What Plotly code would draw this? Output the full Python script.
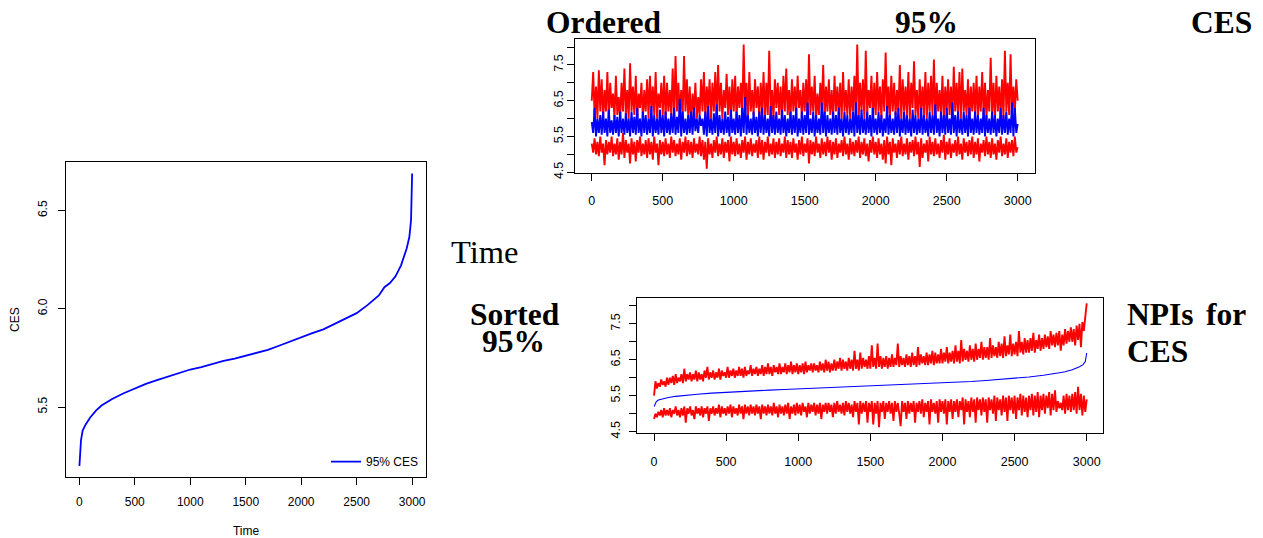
import plotly.graph_objects as go

# ---------------- data ----------------
# Left panel: sorted 95% CES curve
LEFT_T = [1, 15, 30, 60, 100, 150, 200, 300, 400, 500, 600, 700, 800, 900, 1000,
          1100, 1200, 1300, 1400, 1500, 1600, 1700, 1800, 1900, 2000, 2100, 2200,
          2300, 2400, 2500, 2600, 2700, 2750, 2800, 2850, 2900, 2950, 2975, 2990,
          2998, 3000]
LEFT_CES = [5.20, 5.33, 5.38, 5.414, 5.448, 5.482, 5.508, 5.542, 5.570, 5.596, 5.618,
            5.637, 5.655, 5.674, 5.691, 5.703, 5.720, 5.735, 5.747, 5.761, 5.776,
            5.791, 5.812, 5.834, 5.856, 5.876, 5.895, 5.924, 5.949, 5.978, 6.020,
            6.068, 6.110, 6.131, 6.165, 6.221, 6.306, 6.365, 6.450, 6.586, 6.688]

# Top-right panel: ordered 95% CES with NPI bounds (sampled every 10 time steps)
TOP_UPPER = [
    6.5, 7.3, 6.1, 6.9, 6.0, 7.35, 6.2, 7.1, 6.0, 6.8,
    6.2, 7.3, 6.0, 7.0, 6.3, 6.7, 6.0, 7.2, 6.1, 6.6,
    6.0, 7.0, 6.2, 7.4, 6.1, 6.8, 6.0, 7.55, 6.2, 6.9,
    6.1, 7.2, 6.0, 6.7, 6.3, 7.0, 6.0, 6.8, 6.2, 7.1,
    6.0, 7.2, 6.2, 6.9, 6.1, 7.3, 6.0, 6.7, 6.3, 7.0,
    6.1, 7.2, 6.0, 7.0, 6.2, 6.8, 6.1, 7.4, 6.0, 7.75,
    6.2, 7.0, 6.1, 6.8, 6.0, 7.75, 6.2, 7.1, 6.0, 6.9,
    5.9, 6.7, 6.2, 7.0, 6.0, 6.6, 6.1, 7.1, 6.2, 7.3,
    6.0, 6.9, 6.3, 7.1, 6.0, 7.0, 6.2, 7.3, 6.1, 7.5,
    6.2, 7.0, 6.0, 6.8, 6.3, 7.25, 6.1, 6.9, 6.0, 7.1,
    6.2, 7.2, 6.0, 6.9, 6.3, 7.0, 6.1, 8.07, 6.2, 7.0,
    6.0, 7.3, 6.2, 6.8, 6.1, 7.1, 6.3, 6.9, 6.0, 7.0,
    6.2, 7.3, 6.0, 7.0, 6.1, 7.9, 6.2, 6.8, 6.0, 7.1,
    6.3, 7.0, 6.1, 6.9, 6.0, 7.2, 6.2, 7.4, 6.1, 6.8,
    6.0, 7.1, 6.2, 6.9, 6.1, 7.2, 6.3, 6.8, 6.0, 7.0,
    6.2, 7.1, 6.0, 7.8, 6.1, 6.9, 6.2, 7.2, 6.0, 6.7,
    6.1, 7.0, 6.3, 7.5, 6.0, 6.9, 6.2, 7.1, 6.1, 6.8,
    6.0, 7.2, 6.2, 6.9, 6.1, 7.0, 6.0, 7.3, 6.2, 6.8,
    6.1, 7.1, 6.0, 6.9, 6.2, 7.2, 6.1, 8.07, 6.0, 7.0,
    6.2, 7.1, 6.0, 7.9, 6.1, 6.8, 6.3, 7.2, 6.0, 7.0,
    6.1, 7.3, 6.2, 6.9, 6.0, 7.1, 6.2, 7.85, 6.1, 6.9,
    6.0, 7.2, 6.2, 7.0, 6.1, 6.8, 6.2, 7.5, 6.0, 7.1,
    6.2, 6.9, 6.1, 7.3, 6.0, 7.0, 6.3, 7.6, 6.1, 6.8,
    6.0, 7.1, 6.2, 6.9, 6.1, 7.3, 6.0, 7.0, 6.2, 7.2,
    6.1, 7.65, 6.0, 7.0, 6.2, 6.8, 6.1, 7.2, 6.0, 6.9,
    6.2, 7.1, 6.1, 6.9, 6.0, 7.45, 6.2, 7.0, 6.1, 7.3,
    6.0, 7.4, 6.2, 6.8, 6.1, 7.1, 6.0, 6.9, 6.2, 7.0,
    6.1, 7.2, 6.0, 6.9, 6.2, 7.3, 6.1, 7.0, 6.0, 6.8,
    6.2, 7.7, 6.1, 7.0, 6.0, 7.2, 6.2, 6.9, 6.1, 7.1,
    6.0, 7.9, 6.2, 7.0, 6.1, 7.8, 6.0, 6.9, 6.2, 7.1,
    6.5]
TOP_CES = [
    5.9, 5.6, 6.3, 5.5, 6.0, 5.6, 6.1, 5.55, 6.2, 5.6,
    6.0, 5.5, 6.25, 5.6, 5.95, 5.55, 6.1, 5.6, 6.05, 5.5,
    6.2, 5.6, 6.0, 5.55, 6.15, 5.6, 6.0, 5.5, 6.2, 5.6,
    6.05, 5.55, 6.3, 5.6, 6.0, 5.5, 6.2, 5.6, 6.1, 5.55,
    6.0, 5.6, 6.35, 5.5, 6.1, 5.6, 6.0, 5.55, 6.25, 5.6,
    6.1, 5.5, 6.2, 5.6, 6.0, 5.55, 6.15, 5.6, 6.3, 5.55,
    6.05, 5.6, 6.55, 5.5, 6.2, 5.6, 6.0, 5.55, 6.1, 5.6,
    6.2, 5.55, 6.3, 5.65, 6.0, 5.6, 6.1, 5.8, 6.0, 5.55,
    6.2, 5.5, 6.35, 5.6, 6.0, 5.55, 6.15, 5.6, 6.4, 5.5,
    6.1, 5.6, 6.0, 5.55, 6.2, 5.6, 6.05, 5.5, 6.25, 5.6,
    6.0, 5.55, 6.2, 5.6, 6.1, 5.5, 6.3, 5.6, 6.6, 5.55,
    6.1, 5.6, 6.0, 5.55, 6.2, 5.6, 6.05, 5.5, 6.2, 5.6,
    6.3, 5.55, 6.1, 5.6, 6.0, 5.5, 6.35, 5.6, 6.1, 5.55,
    6.2, 5.6, 6.0, 5.55, 6.25, 5.6, 6.1, 5.5, 6.0, 5.6,
    6.2, 5.55, 6.1, 5.6, 6.3, 5.5, 6.0, 5.6, 6.2, 5.55,
    6.1, 5.6, 6.45, 5.55, 6.0, 5.6, 6.2, 5.5, 6.1, 5.6,
    6.0, 5.55, 6.45, 5.6, 6.2, 5.5, 6.1, 5.6, 6.0, 5.55,
    6.2, 5.6, 6.1, 5.55, 6.3, 5.6, 6.0, 5.5, 6.2, 5.6,
    6.1, 5.55, 6.0, 5.6, 6.2, 5.5, 6.45, 5.6, 6.1, 5.55,
    6.25, 5.6, 6.0, 5.55, 6.2, 5.6, 6.1, 5.5, 6.3, 5.6,
    6.0, 5.55, 6.2, 5.6, 6.1, 5.5, 6.0, 5.6, 6.35, 5.55,
    6.1, 5.6, 6.0, 5.55, 6.2, 5.6, 6.3, 5.5, 6.0, 5.6,
    6.2, 5.55, 6.1, 5.6, 6.0, 5.5, 6.25, 5.6, 6.1, 5.55,
    6.0, 5.6, 6.3, 5.55, 6.1, 5.6, 6.0, 5.5, 6.2, 5.6,
    6.1, 5.55, 6.4, 5.6, 6.0, 5.5, 6.2, 5.6, 6.1, 5.55,
    6.3, 5.6, 6.0, 5.55, 6.45, 5.6, 6.1, 5.5, 6.2, 5.6,
    6.0, 5.55, 6.2, 5.6, 6.1, 5.5, 6.3, 5.6, 6.0, 5.55,
    6.2, 5.6, 6.1, 5.55, 6.0, 5.6, 6.3, 5.5, 6.1, 5.6,
    6.0, 5.55, 6.2, 5.6, 6.1, 5.5, 6.0, 5.6, 6.3, 5.55,
    6.1, 5.6, 6.2, 5.55, 6.0, 5.6, 6.45, 5.5, 6.3, 5.6,
    5.85]
TOP_LOWER = [
    5.3, 5.05, 5.45, 5.0, 5.35, 4.95, 5.5, 5.05, 5.3, 4.7,
    5.4, 5.0, 5.35, 5.05, 5.5, 4.95, 5.3, 5.0, 5.45, 4.85,
    5.35, 5.0, 5.6, 4.9, 5.4, 5.05, 5.3, 4.75, 5.45, 5.0,
    5.35, 4.8, 5.4, 5.05, 5.5, 4.95, 5.3, 5.0, 5.4, 4.9,
    5.45, 5.0, 5.35, 4.85, 5.5, 5.05, 5.3, 4.7, 5.4, 5.0,
    5.35, 4.95, 5.45, 5.0, 5.3, 4.9, 5.5, 5.05, 5.4, 4.95,
    5.3, 5.0, 5.45, 4.85, 5.35, 5.05, 5.5, 4.95, 5.4, 5.0,
    5.35, 4.9, 5.45, 5.05, 5.3, 5.0, 5.5, 4.95, 5.4, 4.85,
    5.35, 4.6, 5.45, 5.0, 5.3, 4.9, 5.4, 5.05, 5.5, 4.95,
    5.3, 5.0, 5.45, 4.9, 5.35, 5.05, 5.4, 4.8, 5.5, 5.0,
    5.35, 4.95, 5.45, 5.0, 5.3, 4.9, 5.4, 5.05, 5.5, 4.85,
    5.35, 5.0, 5.45, 4.95, 5.3, 5.05, 5.4, 4.9, 5.5, 5.0,
    5.4, 4.85, 5.35, 5.05, 5.5, 4.95, 5.3, 5.0, 5.45, 4.9,
    5.35, 5.0, 5.45, 4.95, 5.3, 5.05, 5.5, 4.9, 5.4, 5.0,
    5.35, 4.9, 5.45, 5.05, 5.3, 4.85, 5.4, 5.0, 5.5, 4.95,
    5.3, 5.05, 5.45, 4.75, 5.4, 5.0, 5.35, 4.95, 5.5, 5.05,
    5.3, 4.9, 5.45, 5.0, 5.35, 4.95, 5.5, 5.05, 5.4, 4.85,
    5.35, 5.0, 5.45, 4.9, 5.3, 5.05, 5.4, 4.95, 5.5, 5.0,
    5.3, 4.85, 5.45, 5.0, 5.35, 4.95, 5.4, 5.05, 5.5, 4.9,
    5.35, 5.0, 5.45, 4.95, 5.3, 4.8, 5.4, 5.05, 5.5, 5.0,
    5.35, 4.9, 5.45, 5.0, 5.3, 4.85, 5.4, 4.75, 5.5, 5.0,
    5.35, 4.7, 5.45, 5.05, 5.3, 4.9, 5.4, 5.0, 5.5, 4.95,
    5.3, 5.0, 5.45, 4.85, 5.35, 5.05, 5.4, 4.95, 5.5, 5.0,
    5.35, 4.65, 5.45, 4.9, 5.3, 5.05, 5.4, 4.8, 5.5, 5.0,
    5.35, 4.95, 5.45, 5.0, 5.3, 4.9, 5.4, 5.05, 5.55, 4.85,
    5.35, 5.0, 5.45, 4.9, 5.3, 5.05, 5.4, 4.95, 5.5, 5.0,
    5.3, 4.85, 5.45, 5.05, 5.35, 4.95, 5.4, 5.0, 5.5, 4.9,
    5.35, 5.0, 5.45, 4.8, 5.3, 5.05, 5.4, 4.95, 5.5, 5.0,
    5.35, 4.9, 5.45, 5.0, 5.3, 4.85, 5.4, 5.05, 5.5, 4.95,
    5.3, 5.0, 5.45, 4.9, 5.35, 5.05, 5.4, 4.95, 5.5, 5.05,
    5.2]

# Bottom-right panel: NPIs sorted by CES (sampled every 10 time steps)
BOT_UPPER = [
    5.5, 5.9, 5.7, 5.85, 5.75, 5.95, 5.8, 5.9, 5.75, 6.0,
    5.8, 6.0, 5.85, 6.05, 5.8, 6.1, 5.85, 6.0, 5.9, 6.1,
    5.85, 6.25, 5.9, 6.1, 5.95, 6.15, 5.9, 6.1, 5.95, 6.2,
    5.9, 6.15, 5.95, 6.1, 5.9, 6.2, 6.0, 6.3, 5.95, 6.15,
    6.0, 6.2, 5.95, 6.15, 6.0, 6.25, 5.95, 6.2, 6.05, 6.15,
    6.0, 6.3, 6.0, 6.2, 6.05, 6.25, 6.0, 6.2, 6.05, 6.3,
    6.05, 6.25, 6.0, 6.3, 6.05, 6.2, 6.1, 6.35, 6.05, 6.25,
    6.1, 6.3, 6.05, 6.25, 6.1, 6.35, 6.05, 6.3, 6.1, 6.4,
    6.1, 6.3, 6.05, 6.35, 6.15, 6.3, 6.1, 6.4, 6.1, 6.3,
    6.15, 6.4, 6.1, 6.35, 6.15, 6.45, 6.1, 6.35, 6.15, 6.4,
    6.1, 6.35, 6.15, 6.4, 6.1, 6.45, 6.15, 6.35, 6.2, 6.4,
    6.15, 6.4, 6.2, 6.35, 6.15, 6.45, 6.2, 6.4, 6.15, 6.5,
    6.2, 6.45, 6.15, 6.4, 6.2, 6.5, 6.2, 6.45, 6.25, 6.55,
    6.2, 6.5, 6.25, 6.45, 6.2, 6.55, 6.25, 6.5, 6.2, 6.75,
    6.25, 6.5, 6.2, 6.7, 6.25, 6.55, 6.3, 6.5, 6.25, 6.6,
    6.25, 6.9, 6.3, 6.55, 6.25, 6.95, 6.3, 6.6, 6.25, 6.55,
    6.3, 6.6, 6.25, 6.55, 6.3, 6.65, 6.3, 6.55, 6.35, 6.95,
    6.3, 6.6, 6.35, 6.55, 6.3, 6.65, 6.35, 6.6, 6.3, 6.7,
    6.35, 6.6, 6.3, 6.85, 6.35, 6.65, 6.4, 6.6, 6.35, 6.7,
    6.35, 6.65, 6.4, 6.75, 6.35, 6.7, 6.4, 6.65, 6.4, 6.8,
    6.4, 6.7, 6.45, 6.85, 6.4, 6.7, 6.45, 6.75, 6.4, 6.9,
    6.45, 6.75, 6.4, 7.05, 6.45, 6.8, 6.5, 6.75, 6.45, 6.9,
    6.5, 6.8, 6.45, 6.95, 6.5, 6.8, 6.55, 7.0, 6.5, 6.85,
    6.55, 6.85, 6.5, 7.1, 6.55, 6.9, 6.6, 6.85, 6.55, 7.0,
    6.6, 6.95, 6.55, 7.15, 6.6, 6.9, 6.65, 7.2, 6.6, 6.95,
    6.65, 7.0, 6.6, 7.3, 6.7, 7.0, 6.65, 7.1, 6.7, 7.05,
    6.7, 7.1, 6.75, 7.25, 6.7, 7.05, 6.8, 7.2, 6.75, 7.1,
    6.8, 7.2, 6.85, 7.15, 6.8, 7.3, 6.9, 7.2, 6.85, 7.25,
    6.9, 7.3, 6.75, 7.2, 6.9, 7.35, 6.95, 7.3, 7.0, 7.4,
    7.0, 7.35, 6.9, 7.45, 7.05, 7.5, 6.85, 7.55, 7.3, 7.7,
    8.07]
BOT_LOWER = [
    4.85, 5.0, 4.9, 5.05, 4.95, 5.1, 4.9, 5.15, 4.95, 5.1,
    4.95, 5.15, 4.9, 5.1, 5.0, 5.2, 4.95, 5.1, 4.9, 5.15,
    4.95, 5.2, 4.75, 5.15, 5.0, 5.2, 4.95, 5.1, 4.85, 5.2,
    5.0, 5.15, 4.95, 5.2, 4.9, 5.15, 5.0, 5.2, 4.8, 5.15,
    5.0, 5.2, 4.95, 5.15, 5.0, 5.25, 4.9, 5.2, 5.0, 5.15,
    4.95, 5.2, 5.0, 5.25, 4.9, 5.2, 5.0, 5.15, 4.95, 5.25,
    5.0, 5.2, 4.85, 5.25, 5.0, 5.2, 4.95, 5.25, 5.0, 5.2,
    4.95, 5.25, 5.0, 5.2, 4.85, 5.25, 5.0, 5.2, 4.95, 5.25,
    5.0, 5.2, 4.95, 5.3, 5.0, 5.2, 4.9, 5.25, 5.0, 5.2,
    4.95, 5.25, 5.0, 5.3, 4.85, 5.2, 5.0, 5.25, 4.95, 5.3,
    5.0, 5.25, 4.95, 5.3, 5.05, 5.2, 4.9, 5.3, 5.0, 5.25,
    5.05, 5.3, 4.95, 5.25, 5.0, 5.3, 4.85, 5.25, 5.05, 5.3,
    5.0, 5.3, 5.05, 5.25, 4.9, 5.3, 5.0, 5.35, 5.05, 5.25,
    5.0, 5.3, 4.95, 5.35, 5.05, 5.3, 5.0, 5.25, 4.9, 5.35,
    5.05, 5.3, 4.7, 5.35, 5.0, 5.3, 5.05, 5.35, 4.75, 5.3,
    5.05, 5.35, 4.7, 5.3, 5.0, 5.35, 4.62, 5.3, 5.05, 5.35,
    4.85, 5.3, 5.05, 5.35, 5.0, 5.3, 4.8, 5.35, 5.05, 5.3,
    5.0, 4.65, 5.35, 5.05, 5.3, 4.85, 5.35, 5.0, 5.3, 5.05,
    5.35, 4.75, 5.3, 5.05, 5.35, 5.0, 5.4, 4.9, 5.3, 5.05,
    5.35, 4.7, 5.4, 5.05, 5.3, 5.0, 5.35, 4.75, 5.4, 5.05,
    5.35, 5.0, 5.4, 4.7, 5.35, 5.05, 5.4, 4.85, 5.35, 5.05,
    5.4, 4.9, 5.35, 5.1, 5.45, 4.7, 5.4, 5.05, 5.35, 4.9,
    5.45, 5.05, 5.4, 4.75, 5.45, 5.1, 5.4, 4.95, 5.45, 5.05,
    5.4, 4.75, 5.45, 5.1, 5.4, 5.0, 5.5, 4.8, 5.45, 5.1,
    5.4, 4.95, 5.5, 5.05, 5.45, 4.8, 5.5, 5.1, 5.45, 5.0,
    5.5, 4.85, 5.45, 5.1, 5.55, 4.95, 5.5, 5.05, 5.45, 4.9,
    5.5, 5.1, 5.55, 4.95, 5.5, 5.05, 5.6, 4.9, 5.5, 5.1,
    5.55, 5.0, 5.5, 5.15, 5.6, 4.95, 5.55, 5.1, 5.65, 5.05,
    5.35, 5.15, 5.3, 5.1, 5.5, 5.0, 5.55, 5.1, 5.5, 5.05,
    5.55, 5.1, 5.6, 5.0, 5.75, 5.1, 5.55, 4.95, 5.5, 5.05,
    5.4]

X_TICKS = [0, 500, 1000, 1500, 2000, 2500, 3000]
LEFT_Y_TICKS = [5.5, 6.0, 6.5]
RIGHT_Y_TICKS = [4.5, 5.0, 5.5, 6.0, 6.5, 7.0, 7.5, 8.0]
RIGHT_Y_TEXT = ["4.5", "", "5.5", "", "6.5", "", "7.5", ""]
STEP = 10


def tvals(series):
    return [STEP * i for i in range(len(series))]


RED = "#FF0000"
BLUE = "#0000FF"
W, H = 1263, 538
SANS = "Liberation Sans, Arial, sans-serif"
SERIF = "Liberation Serif, Times New Roman, serif"
NOISE_W = 1.9

fig = go.Figure()

# Left panel
fig.add_trace(go.Scatter(x=LEFT_T, y=LEFT_CES, mode="lines", name="95% CES",
                         line=dict(color=BLUE, width=1.8), xaxis="x", yaxis="y",
                         showlegend=True))
# Top-right panel
fig.add_trace(go.Scatter(x=tvals(TOP_UPPER), y=TOP_UPPER, mode="lines",
                         line=dict(color=RED, width=NOISE_W), xaxis="x2", yaxis="y2",
                         showlegend=False))
fig.add_trace(go.Scatter(x=tvals(TOP_LOWER), y=TOP_LOWER, mode="lines",
                         line=dict(color=RED, width=NOISE_W), xaxis="x2", yaxis="y2",
                         showlegend=False))
fig.add_trace(go.Scatter(x=tvals(TOP_CES), y=TOP_CES, mode="lines",
                         line=dict(color=BLUE, width=NOISE_W), xaxis="x2", yaxis="y2",
                         showlegend=False))
# Bottom-right panel
fig.add_trace(go.Scatter(x=tvals(BOT_UPPER), y=BOT_UPPER, mode="lines",
                         line=dict(color=RED, width=NOISE_W), xaxis="x3", yaxis="y3",
                         showlegend=False))
fig.add_trace(go.Scatter(x=tvals(BOT_LOWER), y=BOT_LOWER, mode="lines",
                         line=dict(color=RED, width=NOISE_W), xaxis="x3", yaxis="y3",
                         showlegend=False))
fig.add_trace(go.Scatter(x=LEFT_T, y=LEFT_CES, mode="lines",
                         line=dict(color=BLUE, width=1.1), xaxis="x3", yaxis="y3",
                         showlegend=False))


def px_x(a, b):
    return [a / W, b / W]


def px_y(top, bottom):
    return [1 - bottom / H, 1 - top / H]


def xax(domain, rng, anchor, size, standoff):
    return dict(domain=domain, range=rng, anchor=anchor, tickvals=X_TICKS,
                ticks="outside", ticklen=7, tickwidth=1, tickcolor="#000",
                showline=True, linecolor="#000", linewidth=1, mirror=True,
                showgrid=False, zeroline=False, automargin=False,
                tickfont=dict(family=SANS, size=size, color="#000"),
                ticklabelstandoff=standoff)


def yax(domain, rng, anchor, vals, text, size, standoff):
    return dict(domain=domain, range=rng, anchor=anchor, tickvals=vals, ticktext=text,
                ticks="outside", ticklen=7, tickwidth=1, tickcolor="#000",
                showline=True, linecolor="#000", linewidth=1, mirror=True,
                showgrid=False, zeroline=False, tickangle=-90, automargin=False,
                tickfont=dict(family=SANS, size=size, color="#000"),
                ticklabelstandoff=standoff)


def label(text, x, y, size=31.5, bold=True, angle=0, family=SERIF, xanchor="left"):
    return dict(text=("<b>%s</b>" % text) if bold else text, xref="paper", yref="paper",
                x=x / W, y=1 - y / H, xanchor=xanchor, yanchor="middle",
                showarrow=False, textangle=angle, borderpad=0,
                font=dict(family=family, size=size, color="#000"))


left_x = xax(px_x(66, 426), [-120, 3125], "y", 12, 7)
left_x["title"] = dict(text="Time", standoff=20,
                       font=dict(family=SANS, size=12, color="#000"))

fig.update_layout(
    width=W, height=H, margin=dict(l=0, r=0, t=0, b=0),
    paper_bgcolor="white", plot_bgcolor="white",
    xaxis=left_x,
    yaxis=yax(px_y(162, 477), [5.144, 6.747], "x", LEFT_Y_TICKS,
              ["5.5", "6.0", "6.5"], 12, 6),
    xaxis2=xax(px_x(575, 1035), [-118, 3122], "y2", 12.5, 9),
    yaxis2=yax(px_y(39, 173), [4.48, 8.226], "x2", RIGHT_Y_TICKS, RIGHT_Y_TEXT, 12.5, -1),
    xaxis3=xax(px_x(637.3, 1103.3), [-116, 3115], "y3", 12.5, 10),
    yaxis3=yax(px_y(298.3, 432.7), [4.47, 8.21], "x3", RIGHT_Y_TICKS, RIGHT_Y_TEXT, 12.5, 4),
    showlegend=True,
    legend=dict(x=326 / W, y=1 - 461.7 / H, xanchor="left", yanchor="middle",
                bgcolor="rgba(0,0,0,0)", borderwidth=0,
                font=dict(family=SANS, size=12, color="#000")),
    annotations=[
        label("CES", 15, 320, size=12, bold=False, family=SANS, angle=-90,
              xanchor="center"),
        label("Ordered", 545, 22.5),
        label("95%", 894, 22.5),
        label("CES", 1189.5, 22.5),
        label("Time", 450, 251.7, size=32.5, bold=False),
        label("Sorted", 469, 314),
        label("95%", 481, 341.8),
        label("NPIs", 1126, 314.7),
        label("for", 1204.5, 314.7),
        label("CES", 1126, 351.3),
    ],
)

fig.write_html("out.html", config={"displayModeBar": False},
               post_script="document.body.style.margin='0';document.body.style.overflow='hidden';")
